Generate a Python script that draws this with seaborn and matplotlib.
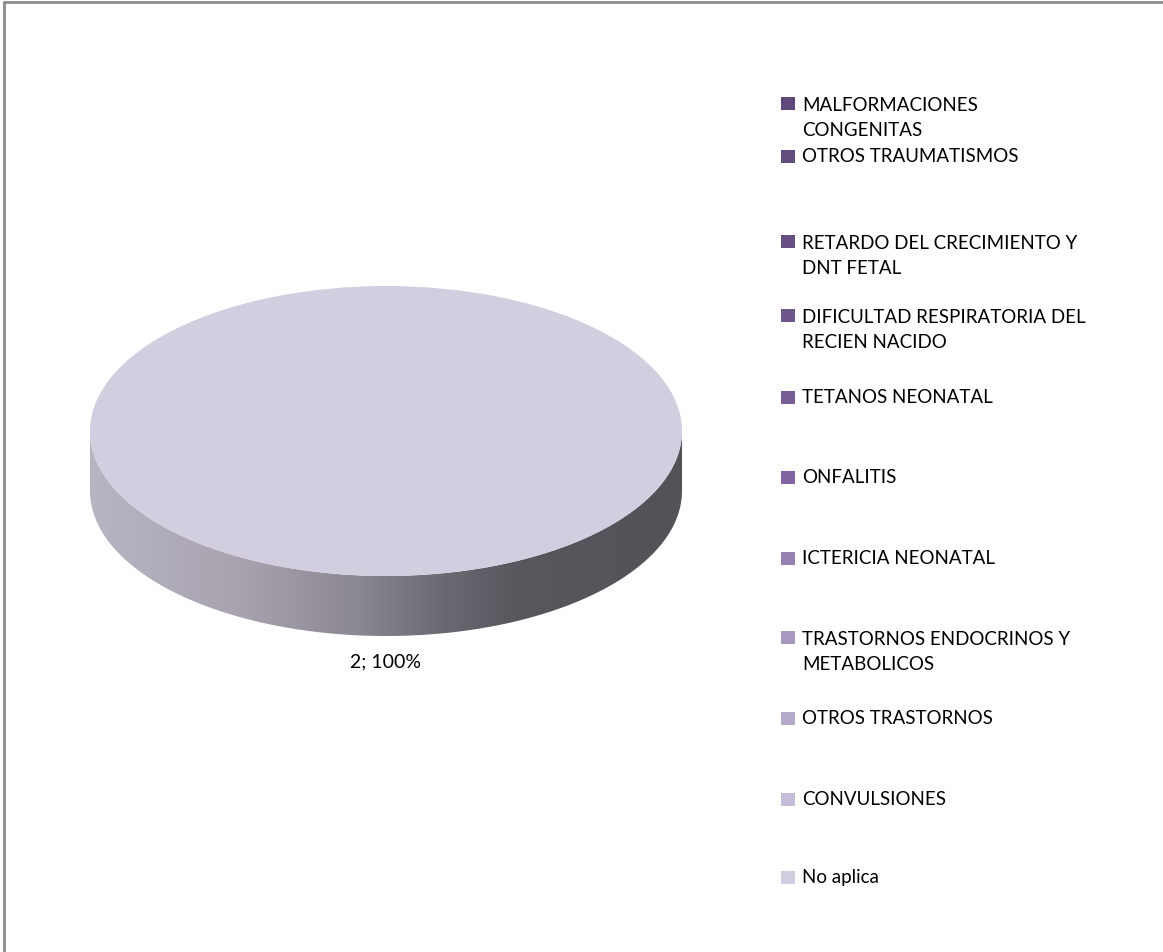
import numpy as np
import matplotlib
matplotlib.use("Agg")
import matplotlib.pyplot as plt
import seaborn as sns
from matplotlib.colors import LinearSegmentedColormap
from matplotlib.patches import Polygon, Rectangle

# data
categories = [
    "MALFORMACIONES\nCONGENITAS",
    "OTROS TRAUMATISMOS",
    "RETARDO DEL CRECIMIENTO Y\nDNT FETAL",
    "DIFICULTAD RESPIRATORIA DEL\nRECIEN NACIDO",
    "TETANOS NEONATAL",
    "ONFALITIS",
    "ICTERICIA NEONATAL",
    "TRASTORNOS ENDOCRINOS Y\nMETABOLICOS",
    "OTROS TRASTORNOS",
    "CONVULSIONES",
    "No aplica",
]
values = [0, 0, 0, 0, 0, 0, 0, 0, 0, 0, 2]

colors = ["#5f497a", "#634c7e", "#674f83", "#6d5589", "#765d94", "#7f64a0",
          "#9781b3", "#a698bf", "#b4a9c8", "#c5bcd7", "#d3cde0"]

sns.set_theme(style="white")
plt.rcParams["font.family"] = ["Lato", "DejaVu Sans"]

W, H = 1163, 953
fig = plt.figure(figsize=(W / 100, H / 100), dpi=100)
ax = fig.add_axes([0, 0, 1, 1])

# pixel geometry of the 3D pie
cx, cy, rx, ry, depth_px = 386, 432, 296, 145, 60
d = depth_px / ry

# side of the disc (front half) with horizontal shading
t = np.linspace(np.pi, 2 * np.pi, 200)
top_edge = np.column_stack([np.cos(t), np.sin(t)])
bot_edge = np.column_stack([np.cos(t[::-1]), np.sin(t[::-1]) - d])
side = Polygon(np.vstack([top_edge, bot_edge]), closed=True,
               facecolor="none", edgecolor="none", zorder=1)
ax.add_patch(side)
shade = LinearSegmentedColormap.from_list("shade", [
    (0.0, "#b9b4c2"), (0.25, "#a8a3af"), (0.45, "#8c8893"),
    (0.6, "#6c6871"), (0.72, "#5a565e"), (1.0, "#555158")])
grad = np.linspace(0, 1, 256).reshape(1, -1)
img = ax.imshow(grad, cmap=shade, aspect="auto", extent=[-1, 1, -1 - d, 0],
                zorder=1.5, interpolation="bilinear")
img.set_clip_path(side)

# top face
wedges, _ = ax.pie(values, colors=colors, radius=1, startangle=90,
                   counterclock=False, wedgeprops=dict(linewidth=0, zorder=2))

ax.set_aspect("auto")
ax.set_xlim(-cx / rx, (W - cx) / rx)
ax.set_ylim((cy - H) / ry, cy / ry)
ax.axis("off")

# data label
total = sum(values)
for v in values:
    if v > 0:
        ax.text(0, -1 - d - 25 / ry, f"{v}; {round(100 * v / total)}%",
                ha="center", va="center", fontsize=14, color="#000000")

# legend (placed to match the original layout), y = first line centre
fs = 13.5
line_px = 28
legend_y = [104, 157, 242, 316, 398, 478, 559, 638, 719, 800, 878]
for lab, col, yy in zip(categories, colors, legend_y):
    fig.patches.append(Rectangle((781 / W, 1 - (yy + 7) / H), 13.5 / W, 13.5 / H,
                                 transform=fig.transFigure, facecolor=col,
                                 edgecolor="none"))
    nl = lab.count("\n")
    fig.text(802 / W, 1 - (yy + nl * line_px / 2) / H, lab, ha="left",
             va="center", fontsize=fs, linespacing=1.55, color="#000000")

# chart border (top and left)
fig.add_artist(plt.Line2D([4 / W, 1], [1 - 3 / H, 1 - 3 / H],
                          transform=fig.transFigure, color="#8c8c8c", lw=2))
fig.add_artist(plt.Line2D([4 / W, 4 / W], [0, 1 - 3 / H],
                          transform=fig.transFigure, color="#8c8c8c", lw=2))

fig.savefig("out.png", dpi=100)
